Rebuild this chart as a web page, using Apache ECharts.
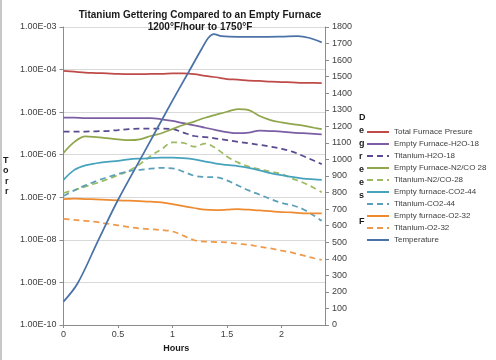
<!DOCTYPE html>
<html>
<head>
<meta charset="utf-8">
<script src="https://cdn.jsdelivr.net/npm/echarts@6/dist/echarts.min.js"></script>
<style>
html,body{margin:0;padding:0;background:#fff;}
#chart{width:496px;height:360px;}
</style>
</head>
<body>
<div id="chart"></div>
<script>
const hours = [0, 0.1, 0.2, 0.3, 0.4, 0.5, 0.6, 0.7, 0.8, 0.9, 1.0, 1.1, 1.2, 1.3, 1.4, 1.5, 1.6, 1.7, 1.8, 1.9, 2.0, 2.1, 2.2, 2.3, 2.37];

const totalFurnace = [9.3e-5, 8.9e-5, 8.5e-5, 8.3e-5, 8.1e-5, 7.9e-5, 7.8e-5, 7.8e-5, 7.9e-5, 7.9e-5, 8.1e-5, 8.1e-5, 7.8e-5, 7.1e-5, 6.6e-5, 6.0e-5, 5.8e-5, 5.5e-5, 5.4e-5, 5.2e-5, 5.1e-5, 5.0e-5, 4.9e-5, 4.9e-5, 4.8e-5];
const emptyH2O = [7.4e-6, 7.4e-6, 7.2e-6, 7.2e-6, 7.2e-6, 7.2e-6, 7.2e-6, 7.2e-6, 7.2e-6, 6.8e-6, 6.2e-6, 5.5e-6, 4.9e-6, 4.3e-6, 3.8e-6, 3.4e-6, 3.2e-6, 3.3e-6, 3.7e-6, 3.6e-6, 3.5e-6, 3.3e-6, 3.2e-6, 3.1e-6, 3.0e-6];
const titaniumH2O = [3.5e-6, 3.5e-6, 3.5e-6, 3.55e-6, 3.6e-6, 3.8e-6, 4.0e-6, 4.1e-6, 4.1e-6, 4.1e-6, 4.0e-6, 3.3e-6, 2.75e-6, 2.6e-6, 2.4e-6, 2.2e-6, 2.0e-6, 1.86e-6, 1.7e-6, 1.55e-6, 1.38e-6, 1.18e-6, 9.3e-7, 7.2e-7, 6.0e-7];
const emptyN2CO = [1.1e-6, 2.0e-6, 2.7e-6, 2.6e-6, 2.45e-6, 2.3e-6, 2.2e-6, 2.3e-6, 2.75e-6, 3.2e-6, 4.0e-6, 5.0e-6, 6.0e-6, 7.4e-6, 8.7e-6, 1.02e-5, 1.18e-5, 1.12e-5, 8.1e-6, 6.5e-6, 5.75e-6, 5.25e-6, 4.8e-6, 4.3e-6, 4.0e-6];
const titaniumN2CO = [1.26e-7, 1.48e-7, 1.78e-7, 2.14e-7, 2.63e-7, 3.3e-7, 4.2e-7, 6.0e-7, 9.3e-7, 1.35e-6, 1.95e-6, 1.9e-6, 1.55e-6, 1.82e-6, 1.41e-6, 9.1e-7, 6.6e-7, 5.25e-7, 4.6e-7, 4.0e-7, 3.5e-7, 2.75e-7, 2.2e-7, 1.66e-7, 1.32e-7];
const emptyCO2 = [2.57e-7, 4.4e-7, 5.6e-7, 6.3e-7, 6.8e-7, 7.2e-7, 7.8e-7, 8.1e-7, 8.3e-7, 8.5e-7, 8.5e-7, 8.3e-7, 7.8e-7, 6.9e-7, 6.2e-7, 5.75e-7, 5.4e-7, 4.9e-7, 4.3e-7, 3.7e-7, 3.3e-7, 3.0e-7, 2.75e-7, 2.63e-7, 2.57e-7];
const titaniumCO2 = [1.07e-7, 1.45e-7, 1.9e-7, 2.4e-7, 2.95e-7, 3.5e-7, 4.1e-7, 4.4e-7, 4.7e-7, 4.9e-7, 4.8e-7, 4.0e-7, 3.2e-7, 3.0e-7, 2.95e-7, 2.5e-7, 1.9e-7, 1.45e-7, 1.15e-7, 9.1e-8, 7.4e-8, 6.5e-8, 5.25e-8, 3.7e-8, 2.8e-8];
const emptyO2 = [9.1e-8, 9.3e-8, 9.1e-8, 8.9e-8, 8.7e-8, 8.5e-8, 8.3e-8, 8.1e-8, 7.9e-8, 7.6e-8, 6.9e-8, 6.2e-8, 5.6e-8, 5.1e-8, 5.0e-8, 5.1e-8, 5.25e-8, 5.1e-8, 4.9e-8, 4.7e-8, 4.5e-8, 4.4e-8, 4.2e-8, 4.2e-8, 4.2e-8];
const titaniumO2 = [3.1e-8, 2.95e-8, 2.8e-8, 2.63e-8, 2.4e-8, 2.2e-8, 2.0e-8, 1.86e-8, 1.78e-8, 1.7e-8, 1.58e-8, 1.26e-8, 9.8e-9, 9.1e-9, 8.9e-9, 8.7e-9, 8.1e-9, 7.6e-9, 6.9e-9, 6.3e-9, 5.6e-9, 5.0e-9, 4.3e-9, 3.7e-9, 3.4e-9];

const tempHours = [0, 0.13, 0.32, 0.5, 0.75, 1.0, 1.15, 1.27, 1.33, 1.38, 1.45, 1.6, 1.8, 2.0, 2.15, 2.25, 2.37];
const temperature = [141, 252, 513, 755, 1055, 1355, 1530, 1670, 1735, 1757, 1745, 1740, 1740, 1742, 1745, 1735, 1707];

const xTickLabels = ['0', '0.5', '1', '1.5', '2'];

const seriesDefs = [
  {name: 'Total Furnace Presure', data: totalFurnace, color: '#BE4B48', dash: 'solid'},
  {name: 'Empty Furnace-H2O-18', data: emptyH2O, color: '#7B5EA3', dash: 'solid'},
  {name: 'Titanium-H2O-18', data: titaniumH2O, color: '#5A4A90', dash: [6, 4]},
  {name: 'Empty Furnace-N2/CO 28', data: emptyN2CO, color: '#8FA64C', dash: 'solid'},
  {name: 'Titanium-N2/CO-28', data: titaniumN2CO, color: '#9DBB62', dash: [6, 4]},
  {name: 'Empty furnace-CO2-44', data: emptyCO2, color: '#47A3BD', dash: 'solid'},
  {name: 'Titanium-CO2-44', data: titaniumCO2, color: '#5B9FBA', dash: [6, 4]},
  {name: 'Empty furnace-O2-32', data: emptyO2, color: '#EE8A30', dash: 'solid'},
  {name: 'Titanium-O2-32', data: titaniumO2, color: '#EE9A4A', dash: [6, 4]}
];

const FONT = 'Liberation Sans, Arial, sans-serif';
const chart = echarts.init(document.getElementById('chart'), null, {renderer: 'canvas'});

const series = seriesDefs.map(d => ({
  name: d.name,
  type: 'line',
  yAxisIndex: 0,
  smooth: 0.35,
  symbol: 'none',
  data: hours.map((h, i) => [h, d.data[i]]),
  lineStyle: {color: d.color, width: 1.75, type: d.dash},
  itemStyle: {color: d.color},
  z: 3
}));
series.push({
  name: 'Temperature',
  type: 'line',
  yAxisIndex: 1,
  smooth: 0.35,
  symbol: 'none',
  data: tempHours.map((h, i) => [h, temperature[i]]),
  lineStyle: {color: '#4A72A8', width: 1.75},
  itemStyle: {color: '#4A72A8'},
  z: 4
});

function sciLabel(v) {
  const e = Math.round(Math.log10(v));
  return '1.00E' + (e < 0 ? '-' : '+') + String(Math.abs(e)).padStart(2, '0');
}

chart.setOption({
  animation: false,
  backgroundColor: '#fff',
  title: {
    text: 'Titanium Gettering Compared to an Empty Furnace\n1200°F/hour to 1750°F',
    left: 195,
    textAlign: 'center',
    top: 4,
    textStyle: {fontFamily: FONT, fontSize: 10, fontWeight: 'bold', color: '#1a1a1a', lineHeight: 12}
  },
  legend: {
    orient: 'vertical',
    left: 361,
    top: 123,
    itemWidth: 22,
    itemHeight: 8,
    itemGap: 4,
    itemStyle: {opacity: 0},
    textStyle: {fontFamily: FONT, fontSize: 8, color: '#404040'},
    data: seriesDefs.map(d => d.name).concat(['Temperature'])
  },
  grid: {left: 63, right: 171, top: 27, bottom: 35},
  xAxis: {
    type: 'value',
    min: 0,
    max: 2.4,
    interval: 0.5,
    name: 'Hours',
    nameLocation: 'middle',
    nameGap: 12,
    nameTextStyle: {fontFamily: FONT, fontSize: 9, fontWeight: 'bold', color: '#1a1a1a', padding: [0, 36, 0, 0]},
    axisLine: {show: true, lineStyle: {color: '#8c8c8c'}},
    axisTick: {show: true, length: 3, lineStyle: {color: '#8c8c8c'}},
    splitLine: {show: false},
    axisLabel: {
      fontFamily: FONT, fontSize: 9, color: '#404040', margin: 5,
      showMaxLabel: false,
      formatter: function (v) { const i = Math.round(v / 0.5); return xTickLabels[i] !== undefined ? xTickLabels[i] : ''; }
    }
  },
  yAxis: [
    {
      type: 'log',
      logBase: 10,
      min: 1e-10,
      max: 1e-3,
      interval: 1,
      position: 'left',
      name: 'T\no\nr\nr',
      nameLocation: 'middle',
      nameRotate: 0,
      nameGap: 55,
      nameTextStyle: {fontFamily: FONT, fontSize: 9, fontWeight: 'bold', color: '#1a1a1a', lineHeight: 10.5},
      axisLine: {show: true, lineStyle: {color: '#8c8c8c'}},
      axisTick: {show: true, length: 4, lineStyle: {color: '#8c8c8c'}},
      minorTick: {show: false},
      splitLine: {show: true, lineStyle: {color: '#d9d9d9', width: 1}},
      axisLabel: {fontFamily: FONT, fontSize: 9, color: '#404040', margin: 7, formatter: sciLabel}
    },
    {
      type: 'value',
      min: 0,
      max: 1800,
      interval: 100,
      position: 'right',
      axisLine: {show: true, lineStyle: {color: '#8c8c8c'}},
      axisTick: {show: true, length: 4, lineStyle: {color: '#8c8c8c'}},
      splitLine: {show: false},
      axisLabel: {fontFamily: FONT, fontSize: 9, color: '#404040', margin: 7, formatter: function (v) { return String(v); }}
    }
  ],
  graphic: [
    {type: 'line', shape: {x1: 1, y1: 0, x2: 1, y2: 360}, style: {stroke: '#c8c8c8', lineWidth: 2}, silent: true},
    {type: 'text', left: 359, top: 111, silent: true,
     style: {text: 'D\ne\ng\nr\ne\ne\ns\n\nF', fill: '#1a1a1a', font: 'bold 9px Liberation Sans, Arial, sans-serif', lineHeight: 13, align: 'center'}}
  ],
  series: series
});
</script>
</body>
</html>
